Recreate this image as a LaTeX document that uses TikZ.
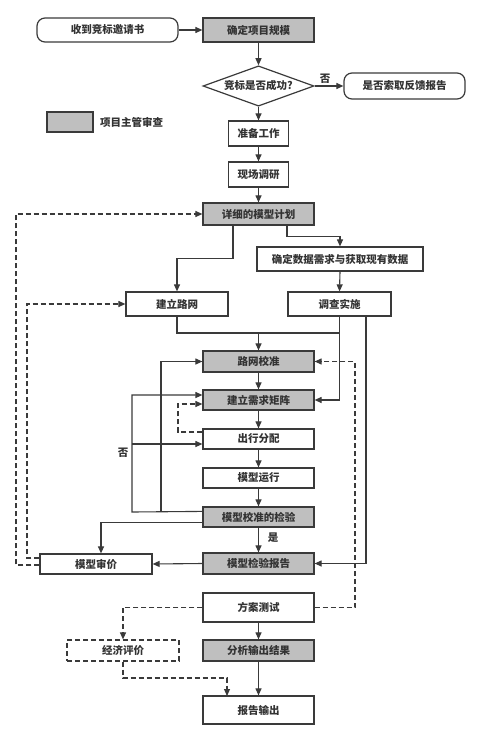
\documentclass[tikz,border=0pt]{standalone}
\usepackage{fontspec}
\setmainfont{Noto Sans CJK SC}
\usetikzlibrary{arrows.meta,shapes.geometric,calc}
\definecolor{ln}{HTML}{3A3A3A}
\definecolor{gf}{HTML}{BFBFBF}
\definecolor{tx}{HTML}{333333}
\tikzset{
  box/.style={draw=ln,line width=1.2pt,rectangle,inner sep=0pt,minimum width=111pt,minimum height=21pt,text=tx,font=\fontsize{10.5}{12}\selectfont\bfseries},
  gbox/.style={box,fill=gf},
  rbox/.style={box,rounded corners=8pt},
  arr/.style={draw=ln,line width=1.1pt,-{Triangle[length=7pt,width=6pt]}},
  ln/.style={draw=ln,line width=1.1pt},
  darr/.style={arr,dash pattern=on 5pt off 3pt},
  lbl/.style={text=tx,font=\fontsize{10.5}{12}\selectfont\bfseries,inner sep=0pt}
}
\begin{document}
\begin{tikzpicture}[x=1pt,y=-1pt]
\useasboundingbox (0,0) rectangle (482,730);
% nodes
\node[rbox,minimum width=141pt,minimum height=24pt] (recv) at (107.5,30) {收到竞标邀请书};
\node[gbox,minimum height=24pt] (scale) at (258.5,30) {确定项目规模};
\node[draw=ln,line width=1.2pt,diamond,inner sep=0pt,minimum width=111pt,minimum height=36pt,text=tx,font=\fontsize{10.5}{12}\selectfont\bfseries] (dia) at (258.5,86) {\makebox[30pt]{竞标是否成功?}};
\node[rbox,minimum width=121pt,minimum height=26pt] (fb) at (404.5,86) {是否索取反馈报告};
\node[gbox,minimum width=46pt,minimum height=20pt] (leg) at (70,122) {};
\node[lbl,anchor=west] (legt) at (100,122) {项目主管审查};
\node[box,minimum width=60pt,minimum height=25pt] (prep) at (258.5,133.5) {准备工作};
\node[box,minimum width=60pt,minimum height=25pt] (survey) at (258.5,174.5) {现场调研};
\node[gbox,minimum height=22pt] (plan) at (258.5,214) {详细的模型计划};
\node[box,minimum width=166pt,minimum height=24pt] (data) at (340,259) {确定数据需求与获取现有数据};
\node[box,minimum width=102pt,minimum height=24pt] (net) at (177,304) {建立路网};
\node[box,minimum width=103pt,minimum height=24pt] (impl) at (339.5,304) {调查实施};
\node[gbox] (calib) at (258.5,361.5) {路网校准};
\node[gbox,minimum height=20pt] (matrix) at (258.5,400) {建立需求矩阵};
\node[box,minimum height=20pt] (trip) at (258.5,439) {出行分配};
\node[box,minimum height=20pt] (run) at (258.5,478) {模型运行};
\node[gbox,minimum height=20pt] (check) at (258.5,517) {模型校准的检验};
\node[box,minimum width=112pt,minimum height=20pt] (review) at (96,564) {模型审价};
\node[gbox] (report) at (258.5,563.5) {模型检验报告};
\node[box,minimum height=29pt] (test) at (258.5,607.5) {方案测试};
\node[box,minimum width=112pt,dashed,dash pattern=on 5pt off 3pt] (econ) at (123,650.5) {经济评价};
\node[gbox] (analysis) at (258.5,650.5) {分析输出结果};
\node[box,minimum height=28pt] (out) at (258.5,710) {报告输出};
% labels
\node[lbl] (no1) at (325,79) {否};
\node[lbl] (no2) at (123,453) {否};
\node[lbl] (yes) at (273,538) {是};
% coordinates
\coordinate (j1) at (258.5,333);
\coordinate (La) at (132,512);
\coordinate (Lb) at (161,512);
% connectors
\draw[arr] (recv) -- (scale);
\draw[arr] (scale) -- (dia);
\draw[arr] (dia.east) -- (fb.west);
\draw[arr] (dia.south) -- (prep);
\draw[arr] (prep) -- (survey);
\draw[arr] (survey) -- (plan);
\draw[arr] ([xshift=-25.5pt]plan.south) -- ++(0,33) -| (net.north);
\draw[arr] ([xshift=28.5pt]plan.south) -- ++(0,11) -| (data.north);
\draw[arr] (data.south) -- (impl.north);
\draw[ln] (net.south) |- (impl.south |- j1);
\draw[arr] (j1) -- (calib.north);
\draw[arr] (impl.south) |- (matrix.east);
\draw[arr] ([xshift=26.5pt]impl.south) |- (report.east);
\draw[arr] (calib) -- (matrix);
\draw[arr] (matrix) -- (trip);
\draw[arr] (trip) -- (run);
\draw[arr] (run) -- (check);
\draw[arr] (check) -- (report);
\draw[arr] ([yshift=-5pt]check.north west) -- (La) |- ([yshift=5pt]matrix.west);
\draw[arr] (La |- trip.west) ++(0,5) -- ([yshift=-5pt]trip.west);
\draw[arr] (Lb) |- (calib.west);
\draw[arr] ([yshift=5pt]check.south west) -| ([xshift=5pt]review.north);
\draw[arr] (report.west) -- (review.east);
\draw[darr] ([yshift=-1pt]review.west) -| (16,214) -- (plan.west);
\draw[darr] ([yshift=6pt]review.west) -| (27,304) -- (net.west);
\draw[darr] ([yshift=7pt]trip.west) -| (178,404) -- ([yshift=-4pt]matrix.west);
\draw[darr] (test.east) -| (355,361.5) -- (calib.east);
\draw[darr] (test.west) -| (econ.north);
\draw[darr] (econ.south) |- (227,678) -- (227,696);
\draw[arr] (test) -- (analysis);
\draw[arr] (analysis) -- (out);
\end{tikzpicture}
\end{document}
